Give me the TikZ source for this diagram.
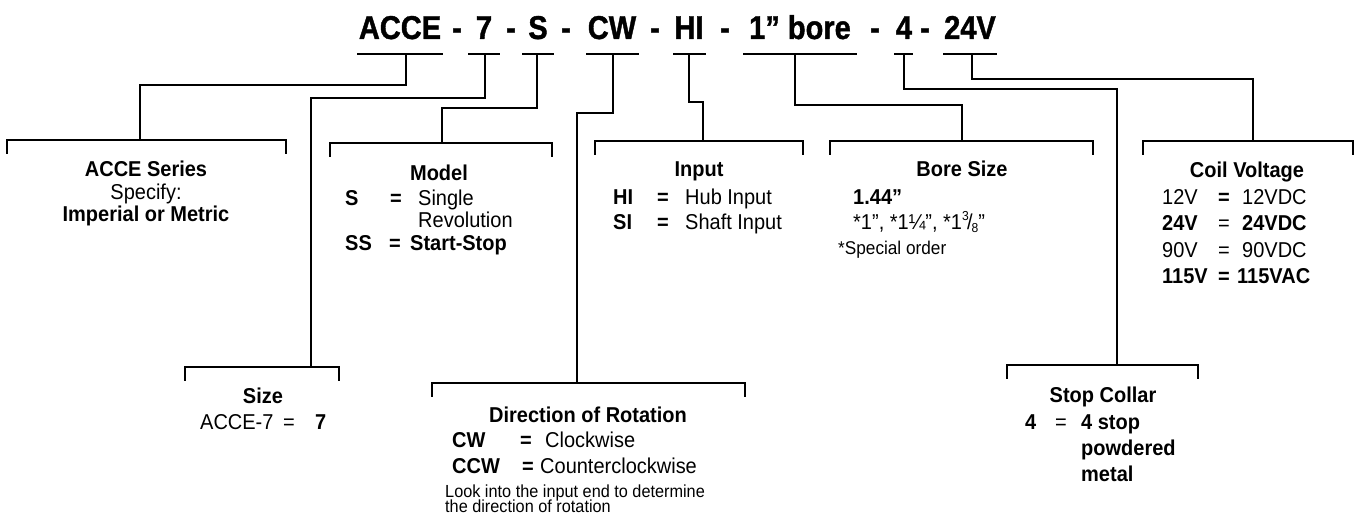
\documentclass[tikz,border=0pt]{standalone}
\usepackage{fontspec}
\setmainfont[FakeStretch=0.93]{Liberation Sans}
\newfontfamily\titlefont[FakeStretch=0.88,FakeBold=1.2]{Liberation Sans Bold}
\begin{document}
\begin{tikzpicture}[x=1pt,y=-1pt,
  ln/.style={line width=2.7pt},
  ttl/.style={inner sep=0,anchor=base,font=\fontsize{33}{36}\titlefont},
  hd/.style={inner sep=0,anchor=base,font=\fontsize{21.5}{24}\selectfont\bfseries},
  rgc/.style={inner sep=0,anchor=base,font=\fontsize{21.5}{24}\selectfont},
  bd/.style={inner sep=0,anchor=base west,font=\fontsize{21.5}{24}\selectfont\bfseries},
  rg/.style={inner sep=0,anchor=base west,font=\fontsize{21.5}{24}\selectfont},
  sm/.style={inner sep=0,anchor=base west,font=\fontsize{17.5}{18}\selectfont}]
\useasboundingbox (0,0) rectangle (1355,526);
\newcommand{\bracketat}[3]{\draw[ln] (#1,#3+14) -- (#1,#3) -- (#2,#3) -- (#2,#3+14);}
\newcommand{\uline}[2]{\draw[ln] (#1,54) -- (#2,54);}
% ---------- title ----------
\node[ttl] (tA) at (400,39) {ACCE};
\node[ttl] (d1) at (457,39) {-};
\node[ttl] (t7) at (484,39) {7};
\node[ttl] (d2) at (511,39) {-};
\node[ttl] (tS) at (538,39) {S};
\node[ttl] (d3) at (566,39) {-};
\node[ttl] (tCW) at (612,39) {CW};
\node[ttl] (d4) at (655,39) {-};
\node[ttl] (tHI) at (689,39) {HI};
\node[ttl] (d5) at (725,39) {-};
\node[ttl] (tB) at (800,39) {1” bore};
\node[ttl] (d6) at (875,39) {-};
\node[ttl] (t4) at (904,39) {4};
\node[ttl] (d7) at (925,39) {-};
\node[ttl] (tV) at (970,39) {24V};
\uline{357}{443}
\uline{468}{500}
\uline{522}{554}
\uline{586}{639}
\uline{673}{706}
\uline{743}{857}
\uline{894}{913}
\uline{943}{997}
% ---------- brackets ----------
\bracketat{7}{286}{140}
\bracketat{330}{552}{143}
\bracketat{595}{803}{141}
\bracketat{830}{1093}{141}
\bracketat{1143}{1353}{141}
\bracketat{185}{339}{367}
\bracketat{432}{745}{383}
\bracketat{1007}{1198}{365}
% ---------- connector points ----------
\coordinate (uA) at (406,54);  \coordinate (kA) at (140,85);   \coordinate (bA) at (140,140);
\coordinate (u7) at (485,54);  \coordinate (k7) at (311,98);   \coordinate (b7) at (311,367);
\coordinate (uS) at (537,54);  \coordinate (kS) at (442,108);  \coordinate (bS) at (442,143);
\coordinate (uC) at (613,54);  \coordinate (kC) at (577,113);  \coordinate (bC) at (577,383);
\coordinate (uH) at (689,54);  \coordinate (kH) at (703,102);  \coordinate (bH) at (703,141);
\coordinate (uB) at (795,54);  \coordinate (kB) at (962,105);  \coordinate (bB) at (962,141);
\coordinate (u4) at (904,54);  \coordinate (k4) at (1117,89);  \coordinate (b4) at (1117,365);
\coordinate (uV) at (972,54);  \coordinate (kV) at (1253,79);  \coordinate (bV) at (1253,141);
\foreach \n in {A,7,S,C,H,B,4,V}{\draw[ln] (u\n) |- (k\n) -- (b\n);}
% ---------- ACCE Series ----------
\node[hd] (a1) at (146,177) {ACCE Series};
\node[rgc] (a2) at (146,200) {Specify:};
\node[hd] (a3) at (146,222) {Imperial or Metric};
% ---------- Model ----------
\node[hd] (m0) at (439,181) {Model};
\node[bd] (m1) at (345,206) {S};
\node[bd] (m1e) at (390,206) {=};
\node[rg] (m1t) at (418,206) {Single};
\node[rg] (m2t) at (418,228) {Revolution};
\node[bd] (m3) at (345,251) {SS};
\node[bd] (m3e) at (389,251) {=};
\node[bd] (m3t) at (410,251) {Start-Stop};
% ---------- Input ----------
\node[hd] (i0) at (699,177) {Input};
\node[bd] (i1) at (613,205) {HI};
\node[bd] (i1e) at (657,205) {=};
\node[rg] (i1t) at (685,205) {Hub Input};
\node[bd] (i2) at (613,230) {SI};
\node[bd] (i2e) at (657,230) {=};
\node[rg] (i2t) at (685,230) {Shaft Input};
% ---------- Bore Size ----------
\node[hd] (b0) at (962,177) {Bore Size};
\node[bd] (b1) at (853,205) {1.44”};
\node[rg] (b2) at (853,230) {*1”, *1¼”, *1\raisebox{0.42em}{\fontsize{13}{13}\selectfont 3}\kern-0.08em/\kern-0.05em\raisebox{-0.12em}{\fontsize{13}{13}\selectfont 8}”};
\node[sm,font=\fontsize{18.5}{20}\selectfont] (b3) at (838,255) {*Special order};
% ---------- Coil Voltage ----------
\node[hd] (c0) at (1247,178) {Coil Voltage};
\node[rg] (c1) at (1162,205) {12V};
\node[bd] (c1e) at (1218,205) {=};
\node[rg] (c1t) at (1242,205) {12VDC};
\node[bd] (c2) at (1162,231) {24V};
\node[rg] (c2e) at (1218,231) {=};
\node[bd] (c2t) at (1242,231) {24VDC};
\node[rg] (c3) at (1162,258) {90V};
\node[rg] (c3e) at (1218,258) {=};
\node[rg] (c3t) at (1242,258) {90VDC};
\node[bd] (c4) at (1162,284) {115V};
\node[bd] (c4e) at (1218,284) {=};
\node[bd] (c4t) at (1237,284) {115VAC};
% ---------- Size ----------
\node[hd] (s0) at (263,404) {Size};
\node[rg] (s1) at (200,429) {ACCE-7};
\node[rg] (s1e) at (283,429) {=};
\node[bd] (s1t) at (315,429) {7};
% ---------- Direction of Rotation ----------
\node[hd] (r0) at (588,423) {Direction of Rotation};
\node[bd] (r1) at (452,448) {CW};
\node[bd] (r1e) at (520,448) {=};
\node[rg] (r1t) at (545,448) {Clockwise};
\node[bd] (r2) at (452,473) {CCW};
\node[bd] (r2e) at (522,473) {=};
\node[rg] (r2t) at (540,473) {Counterclockwise};
\node[sm] (r3) at (445,497) {Look into the input end to determine};
\node[sm] (r4) at (445,512) {the direction of rotation};
% ---------- Stop Collar ----------
\node[hd] (k0) at (1103,403) {Stop Collar};
\node[bd] (k1) at (1025,429) {4};
\node[rg] (k1e) at (1055,429) {=};
\node[bd] (k1t) at (1081,429) {4 stop};
\node[bd] (k2t) at (1081,455) {powdered};
\node[bd] (k3t) at (1081,482) {metal};
\end{tikzpicture}
\end{document}
